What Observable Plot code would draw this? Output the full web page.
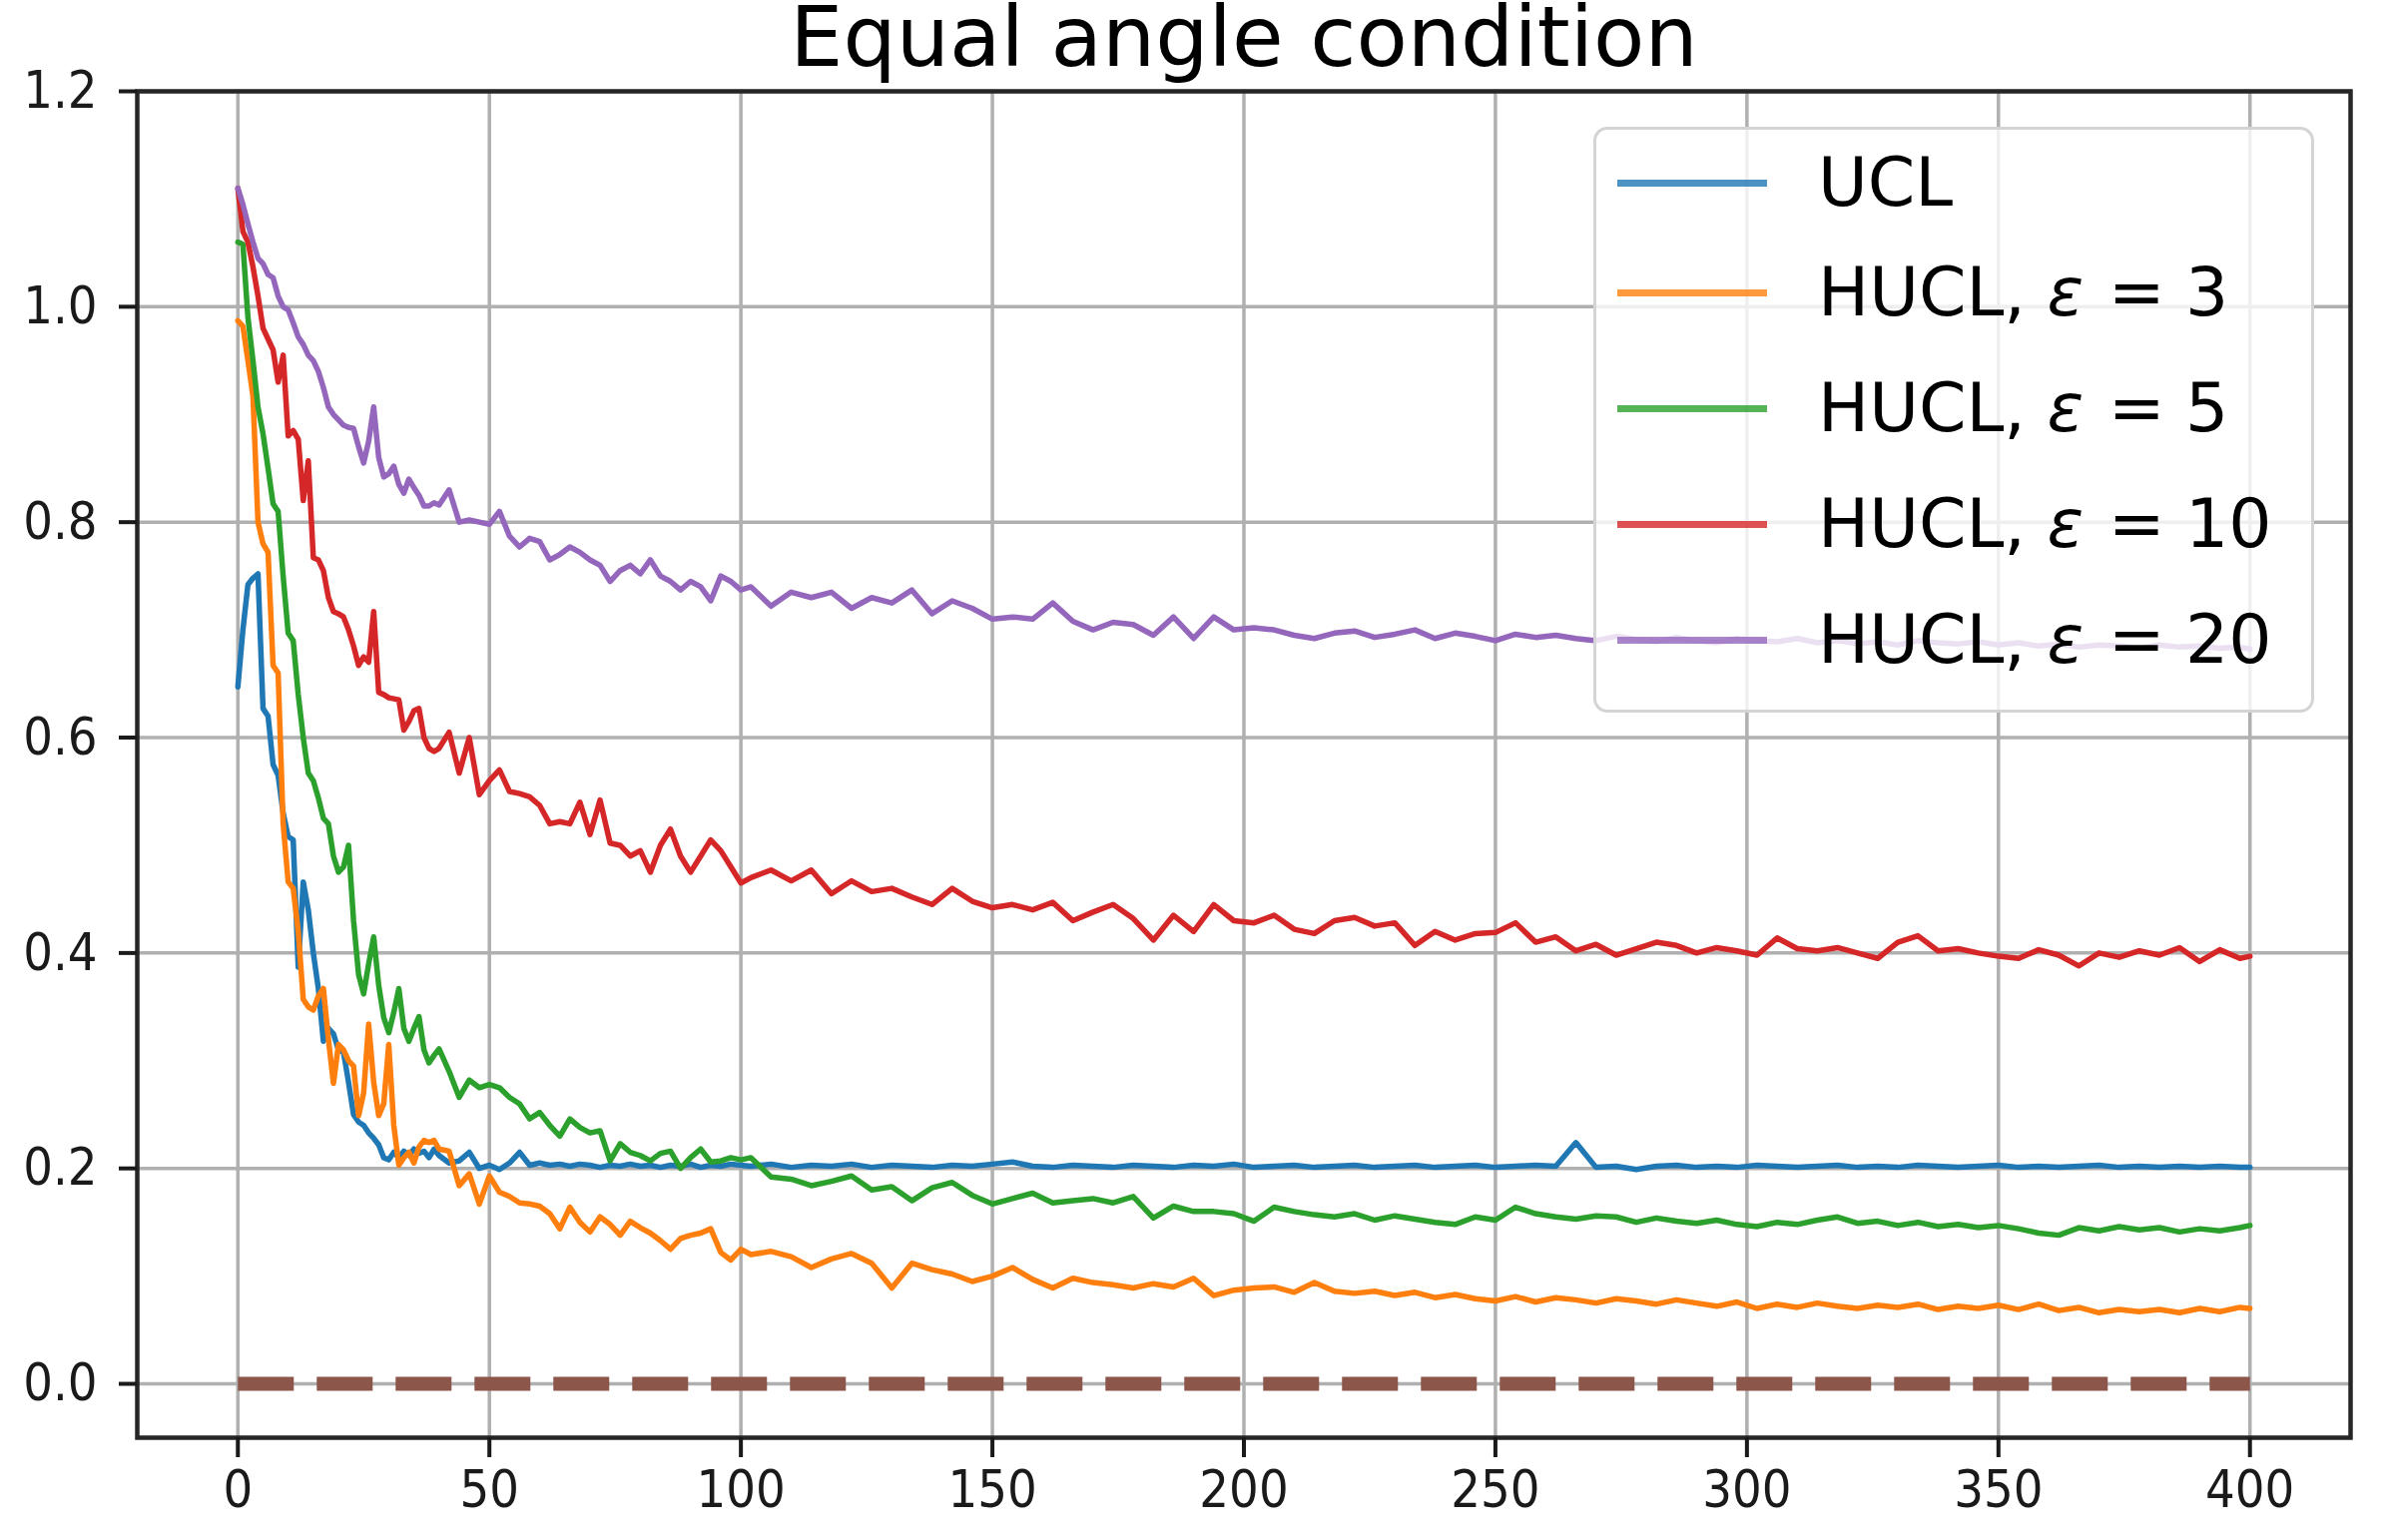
<!DOCTYPE html>
<html>
<head>
<meta charset="utf-8">
<script src="https://cdn.jsdelivr.net/npm/d3@7"></script>
<script src="https://cdn.jsdelivr.net/npm/@observablehq/plot@0.6"></script>
<style>
html, body { margin: 0; padding: 0; background: #fff; }
#wrap { position: relative; width: 2392px; height: 1543px; overflow: hidden; background: #fff; }
#legend { position: absolute; left: 1596px; top: 127px; width: 716px; height: 581px;
  border: 3px solid #d4d4d4; border-radius: 14px; background: rgba(255,255,255,0.8);
  font-family: "DejaVu Sans"; font-size: 68px; color: #000; }
.row { position: absolute; left: 0; height: 0; width: 100%; }
.handle { position: absolute; left: 21px; width: 150px; height: 7px; margin-top: -3.5px; opacity: 0.8; }
.lab { position: absolute; left: 222px; white-space: nowrap; line-height: 1; transform: translateY(-50%); }
.eq { padding: 0 0.3em 0 0.36em; }
</style>
</head>
<body>
<div id="wrap"><div id="chart"></div><div id="legend"></div></div>
<script>
// iteration grid: every 1 up to 40, every 2 up to 100, every 4 up to 398, then 400
const iters = [...d3.range(0, 41, 1), ...d3.range(42, 101, 2), ...d3.range(102, 399, 4), 400];

const seriesNames = ["UCL", "HUCL, \u03b5 = 3", "HUCL, \u03b5 = 5", "HUCL, \u03b5 = 10", "HUCL, \u03b5 = 20"];
const seriesEps = [null, "3", "5", "10", "20"];
const seriesColors = ["#1f77b4", "#ff7f0e", "#2ca02c", "#d62728", "#9467bd"];

const ucl = [
  0.647,0.700,0.742,0.748,0.752,0.627,0.620,0.575,0.565,0.530,0.508,0.505,0.387,0.466,0.440,0.400,0.367,0.318,0.330,0.325,
  0.310,0.308,0.280,0.250,0.243,0.240,0.233,0.228,0.222,0.210,0.208,0.215,0.210,0.216,0.212,0.218,0.214,0.216,0.210,0.218,0.212,
  0.205,0.207,0.215,0.200,0.203,0.199,0.205,0.215,0.203,0.205,0.203,0.204,0.202,0.204,0.203,0.201,0.203,0.202,0.204,0.202,
  0.203,0.201,0.203,0.202,0.204,0.201,0.203,0.202,0.204,0.203,
  0.202,0.204,0.201,0.203,0.202,0.204,0.201,0.203,0.202,0.201,
  0.203,0.202,0.204,0.206,0.202,0.201,0.203,0.202,0.201,0.203,
  0.202,0.201,0.203,0.202,0.204,0.201,0.202,0.203,0.201,0.202,
  0.203,0.201,0.202,0.203,0.201,0.202,0.203,0.201,0.202,0.203,
  0.202,0.224,0.201,0.202,0.199,0.202,0.203,0.201,0.202,0.201,
  0.203,0.202,0.201,0.202,0.203,0.201,0.202,0.201,0.203,0.202,
  0.201,0.202,0.203,0.201,0.202,0.201,0.202,0.203,0.201,0.202,
  0.201,0.202,0.201,0.202,0.201,0.201
];

const hucl3 = [
  0.987,0.982,0.950,0.917,0.800,0.780,0.772,0.667,0.660,0.520,0.466,0.460,0.420,0.357,0.350,0.347,0.360,0.367,0.320,0.279,
  0.315,0.310,0.300,0.295,0.249,0.270,0.334,0.280,0.249,0.260,0.315,0.240,0.203,0.210,0.215,0.205,0.220,0.226,0.224,0.226,0.218,
  0.216,0.184,0.195,0.167,0.193,0.178,0.174,0.168,0.167,0.165,0.158,0.144,0.164,0.150,0.141,0.155,0.148,0.138,0.151,0.145,
  0.140,0.133,0.125,0.135,0.138,0.140,0.144,0.122,0.115,0.125,
  0.120,0.123,0.118,0.108,0.116,0.121,0.112,0.089,0.112,0.106,
  0.102,0.095,0.100,0.108,0.097,0.089,0.098,0.094,0.092,0.089,
  0.093,0.090,0.098,0.082,0.087,0.089,0.090,0.085,0.094,0.086,
  0.084,0.086,0.082,0.085,0.080,0.083,0.079,0.077,0.081,0.076,
  0.080,0.078,0.075,0.079,0.077,0.074,0.078,0.075,0.072,0.076,
  0.070,0.074,0.071,0.075,0.072,0.070,0.073,0.071,0.074,0.069,
  0.072,0.070,0.073,0.069,0.074,0.068,0.071,0.066,0.069,0.067,
  0.069,0.066,0.070,0.067,0.071,0.070
];

const hucl5 = [
  1.060,1.058,0.990,0.950,0.907,0.882,0.850,0.817,0.810,0.750,0.697,0.690,0.640,0.600,0.567,0.560,0.544,0.525,0.520,0.490,
  0.475,0.480,0.500,0.430,0.380,0.362,0.390,0.415,0.370,0.340,0.326,0.345,0.367,0.330,0.318,0.330,0.341,0.310,0.298,0.305,0.311,
  0.290,0.266,0.282,0.275,0.278,0.275,0.266,0.260,0.246,0.252,0.240,0.230,0.246,0.238,0.233,0.235,0.207,0.223,0.215,0.212,
  0.207,0.214,0.216,0.200,0.210,0.218,0.206,0.207,0.210,0.208,
  0.210,0.192,0.190,0.184,0.188,0.193,0.180,0.183,0.170,0.182,
  0.187,0.175,0.167,0.172,0.177,0.168,0.170,0.172,0.168,0.174,
  0.154,0.165,0.160,0.160,0.158,0.151,0.164,0.160,0.157,0.155,
  0.158,0.152,0.156,0.153,0.150,0.148,0.155,0.152,0.164,0.158,
  0.155,0.153,0.156,0.155,0.150,0.154,0.151,0.149,0.152,0.148,
  0.146,0.150,0.148,0.152,0.155,0.149,0.151,0.147,0.150,0.146,
  0.148,0.145,0.147,0.144,0.140,0.138,0.145,0.142,0.146,0.143,
  0.145,0.141,0.144,0.142,0.145,0.147
];

const hucl10 = [
  1.110,1.070,1.060,1.037,1.010,0.980,0.970,0.960,0.930,0.955,0.880,0.885,0.877,0.820,0.857,0.767,0.765,0.755,0.730,0.717,
  0.715,0.712,0.700,0.685,0.667,0.675,0.670,0.717,0.642,0.640,0.637,0.636,0.635,0.607,0.615,0.625,0.627,0.600,0.590,0.587,0.590,
  0.605,0.567,0.600,0.547,0.560,0.570,0.550,0.548,0.545,0.537,0.520,0.522,0.520,0.540,0.510,0.542,0.502,0.500,0.490,0.495,
  0.475,0.500,0.515,0.490,0.475,0.490,0.505,0.495,0.480,0.465,
  0.470,0.477,0.467,0.477,0.455,0.467,0.457,0.460,0.452,0.445,
  0.460,0.448,0.442,0.445,0.440,0.447,0.430,0.438,0.445,0.432,
  0.412,0.435,0.420,0.445,0.430,0.428,0.435,0.422,0.418,0.430,
  0.433,0.425,0.428,0.407,0.420,0.412,0.418,0.419,0.428,0.410,
  0.415,0.402,0.408,0.398,0.404,0.410,0.407,0.400,0.405,0.402,
  0.398,0.414,0.404,0.402,0.405,0.400,0.395,0.410,0.416,0.402,
  0.404,0.400,0.397,0.395,0.403,0.398,0.388,0.400,0.396,0.402,
  0.398,0.405,0.392,0.403,0.395,0.397
];

const hucl20 = [
  1.110,1.095,1.077,1.060,1.045,1.040,1.030,1.027,1.010,1.000,0.997,0.985,0.972,0.965,0.955,0.950,0.940,0.925,0.907,0.900,
  0.895,0.890,0.888,0.887,0.870,0.855,0.875,0.907,0.860,0.842,0.845,0.852,0.835,0.827,0.840,0.832,0.825,0.815,0.815,0.818,0.816,
  0.830,0.800,0.802,0.800,0.798,0.810,0.787,0.777,0.785,0.782,0.765,0.770,0.777,0.772,0.765,0.760,0.745,0.755,0.760,0.752,
  0.765,0.750,0.745,0.737,0.745,0.740,0.727,0.750,0.745,0.737,
  0.740,0.722,0.735,0.730,0.735,0.720,0.730,0.725,0.737,0.715,
  0.727,0.720,0.710,0.712,0.710,0.725,0.708,0.700,0.707,0.705,
  0.695,0.712,0.692,0.712,0.700,0.702,0.700,0.695,0.692,0.697,
  0.699,0.693,0.696,0.700,0.692,0.697,0.694,0.690,0.696,0.693,
  0.695,0.692,0.690,0.694,0.691,0.689,0.693,0.690,0.688,0.692,
  0.690,0.689,0.692,0.688,0.690,0.687,0.689,0.686,0.690,0.688,
  0.687,0.689,0.686,0.688,0.685,0.687,0.684,0.686,0.685,0.683,
  0.686,0.684,0.685,0.683,0.684,0.682
];

// dashed reference line at zero
const refX = [0, 400];
const refY = [0, 0];
const refColor = "#8c564b";

const xTicks = [0, 50, 100, 150, 200, 250, 300, 350, 400];
const yTicks = [0.0, 0.2, 0.4, 0.6, 0.8, 1.0, 1.2];
const title = "Equal angle condition";

const allSeries = [ucl, hucl3, hucl5, hucl10, hucl20];
const tickFont = "'DejaVu Sans Condensed', 'DejaVu Sans'";

const lineMarks = allSeries.map((vals, k) =>
  Plot.line(vals, {x: (d, i) => iters[i], y: d => d, stroke: seriesColors[k], strokeWidth: 5.5, strokeLinejoin: "round"})
);

const chart = Plot.plot({
  width: 2392,
  height: 1543,
  marginLeft: 137,
  marginRight: 38,
  marginTop: 91,
  marginBottom: 103,
  style: {background: "#fff", color: "#1a1a1a", overflow: "visible"},
  x: {domain: [-20, 420]},
  y: {domain: [-0.05, 1.2]},
  marks: [
    Plot.gridX(xTicks, {stroke: "#b0b0b0", strokeOpacity: 1, strokeWidth: 3.5}),
    Plot.gridY(yTicks, {stroke: "#b0b0b0", strokeOpacity: 1, strokeWidth: 3.5}),
    ...lineMarks,
    Plot.line(refY, {x: (d, i) => refX[i], y: d => d, stroke: refColor, strokeWidth: 14, strokeDasharray: "56,23", strokeLinecap: "butt"}),
    Plot.frame({stroke: "#262626", strokeWidth: 4.5}),
    Plot.axisX(xTicks, {tickSize: 20, tickPadding: 13, fontSize: 52, fontFamily: tickFont, strokeWidth: 4, tickFormat: d => String(d), label: null}),
    Plot.axisY(yTicks, {tickSize: 18, tickPadding: 22, fontSize: 52, fontFamily: tickFont, strokeWidth: 4, tickFormat: d3.format(".1f"), label: null}),
    Plot.text([title], {frameAnchor: "top", lineAnchor: "bottom", dy: 65 - 91, fontSize: 84, fontFamily: "DejaVu Sans", fill: "#000"})
  ]
});
document.getElementById("chart").appendChild(chart);

// legend
const legend = document.getElementById("legend");
const rowY = [53, 163, 279, 395, 511];
seriesNames.forEach((name, k) => {
  const row = document.createElement("div");
  row.className = "row";
  row.style.top = rowY[k] + "px";
  const h = document.createElement("div");
  h.className = "handle";
  h.style.background = seriesColors[k];
  const lab = document.createElement("div");
  lab.className = "lab";
  if (seriesEps[k] === null) {
    lab.textContent = name;
  } else {
    lab.innerHTML = "HUCL, <span style=\"font-style:italic\">\u03b5</span><span class=\"eq\">=</span>" + seriesEps[k];
  }
  row.appendChild(h);
  row.appendChild(lab);
  legend.appendChild(row);
});
</script>
</body>
</html>
